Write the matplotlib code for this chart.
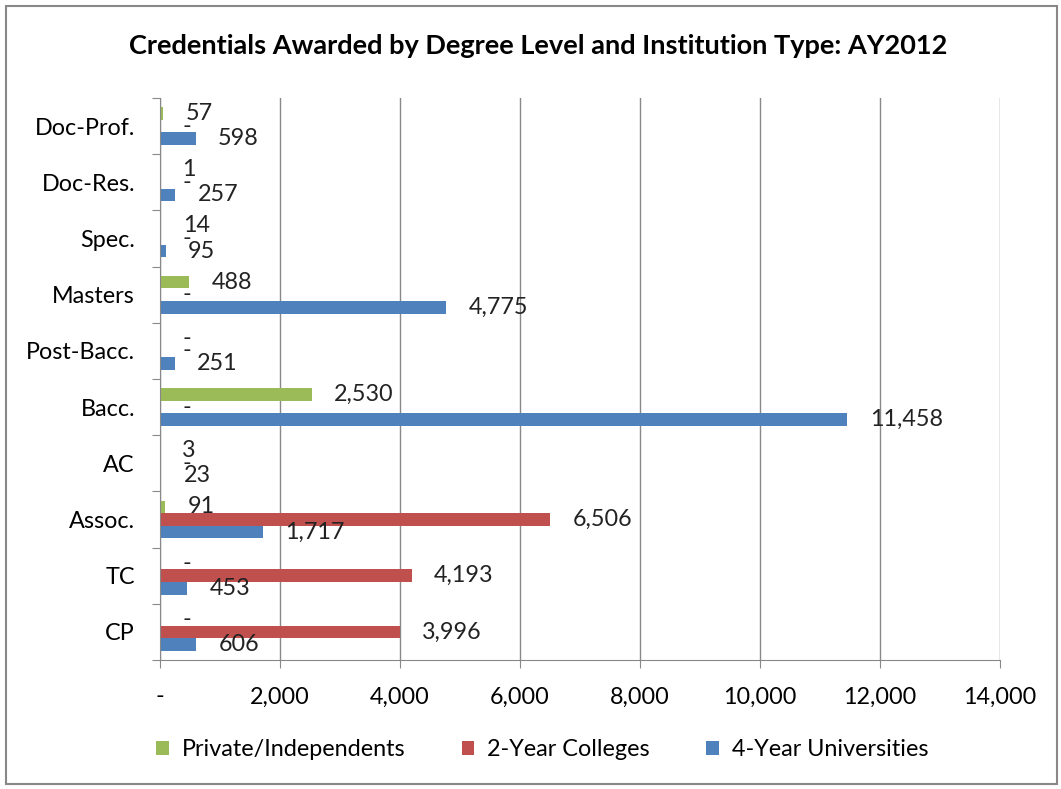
import matplotlib.pyplot as plt
import numpy as np
from matplotlib.patches import Rectangle

plt.rcParams['font.family'] = ['Lato', 'DejaVu Sans']

categories = ['CP', 'TC', 'Assoc.', 'AC', 'Bacc.', 'Post-Bacc.', 'Masters', 'Spec.', 'Doc-Res.', 'Doc-Prof.']
private = [0, 0, 91, 3, 2530, 0, 488, 14, 1, 57]
two_year = [3996, 4193, 6506, 0, 0, 0, 0, 0, 0, 0]
four_year = [606, 453, 1717, 23, 11458, 251, 4775, 95, 257, 598]
x_ticks = [0, 2000, 4000, 6000, 8000, 10000, 12000, 14000]

green = '#9BBB59'
red = '#C0504D'
blue = '#4F81BD'

fig = plt.figure(figsize=(10.61, 7.89), dpi=100)
ax = fig.add_axes([0.1508, 0.1635, 0.7917, 0.7123])

y = np.arange(len(categories))
h = 0.225
series = [(four_year, blue, '4-Year Universities', -h),
          (two_year, red, '2-Year Colleges', 0),
          (private, green, 'Private/Independents', h)]
bars = {}
for vals, col, name, off in series:
    bars[name] = ax.barh(y + off, vals, height=h, color=col, edgecolor='none', label=name)
    for yi, v in zip(y, vals):
        txt = '-' if v == 0 else f'{v:,}'
        ax.annotate(txt, (v, yi + off), xytext=(16, 0), textcoords='offset points',
                    ha='left', va='center', fontsize=16.8, color='#222222')

ax.set_xlim(0, 14000)
ax.set_ylim(-0.5, len(categories) - 0.5)
ax.set_xticks(x_ticks)
ax.set_xticklabels(['-' if t == 0 else f'{t:,}' for t in x_ticks], fontsize=16.8)
ax.set_yticks(np.arange(-0.5, len(categories), 1.0))
ax.set_yticklabels([])
ax.set_yticks(y, minor=True)
ax.set_yticklabels(categories, minor=True, fontsize=16.8)
ax.tick_params(axis='y', which='major', length=6, color='#888888')
ax.tick_params(axis='y', which='minor', length=0, pad=18)
ax.tick_params(axis='x', length=6, color='#888888', pad=13)

ax.grid(axis='x', color='#888888', lw=1)
ax.set_axisbelow(True)
for s in ['top', 'right']:
    ax.spines[s].set_visible(False)
ax.spines['left'].set_color('#888888')
ax.spines['bottom'].set_color('#888888')

fig.text(0.507, 0.942, 'Credentials Awarded by Degree Level and Institution Type: AY2012',
         ha='center', va='center', fontsize=19.5, fontweight='bold')

handles = [bars['Private/Independents'], bars['2-Year Colleges'], bars['4-Year Universities']]
fig.legend(handles, [hd.get_label() for hd in handles], loc='center', bbox_to_anchor=(0.511, 0.05),
           ncol=3, frameon=False, fontsize=16.8, handlelength=0.55, handleheight=0.55,
           handletextpad=0.55, columnspacing=2.4)

fig.patches.append(Rectangle((0.006, 0.006), 0.99, 0.986, transform=fig.transFigure,
                             fill=False, edgecolor='#888888', lw=1.5))

fig.savefig('out.png', dpi=100)
